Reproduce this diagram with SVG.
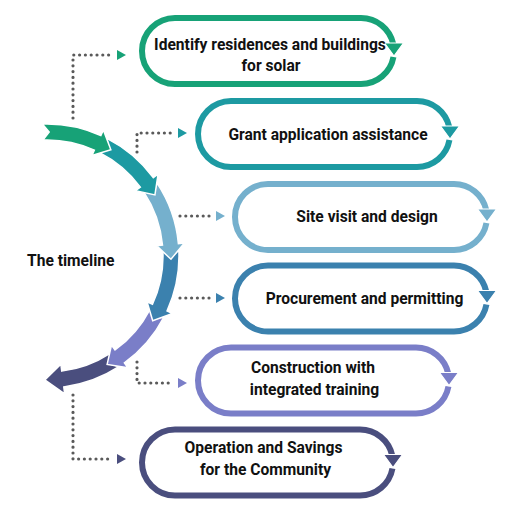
<svg xmlns="http://www.w3.org/2000/svg" width="527" height="523" viewBox="0 0 527 523">
<style>
.pill{fill:none;stroke-width:6;stroke-linecap:butt}
.tri{stroke:#fff;stroke-width:1.2;stroke-linejoin:miter}
.seg{stroke:#fff;stroke-width:1.5;stroke-linejoin:miter}
.dot{fill:none;stroke:#5a5a5a;stroke-width:3.2;stroke-linecap:round;stroke-dasharray:0 5.8}
.lbl{font-family:Roboto,"Liberation Sans",sans-serif;font-weight:700;font-size:15.6px;fill:#111;text-anchor:middle}
.c1{stroke:#17a277}.f1{fill:#17a277}
.c2{stroke:#1d9aa2}.f2{fill:#1d9aa2}
.c3{stroke:#75b0cd}.f3{fill:#75b0cd}
.c4{stroke:#3b81ae}.f4{fill:#3b81ae}
.c5{stroke:#7a7ec8}.f5{fill:#7a7ec8}
.c6{stroke:#4a4e7e}.f6{fill:#4a4e7e}
</style>
<rect width="527" height="523" fill="#fff"/>
<g id="timeline">
<path class="seg f6" d="M118.89,366.71 A132,132 0 0 1 63.78,386.93 L64.67,393.87 L44.83,379.98 L60.85,364.12 L61.74,371.06 A116,116 0 0 0 110.17,353.29 L109,363.39 Z"/>
<path class="seg f5" d="M164.08,316.94 A132,132 0 0 1 124.4,362.92 L127.92,367.78 L107.12,364.45 L111.5,345.1 L115.02,349.96 A116,116 0 0 0 149.89,309.56 L153.84,318.93 Z"/>
<path class="seg f4" d="M178.87,250.24 A132,132 0 0 1 167.01,310.95 L172.47,313.45 L152.72,320.79 L147.01,301.79 L152.47,304.29 A116,116 0 0 0 162.88,250.94 L171,257.08 Z"/>
<path class="seg f3" d="M157.07,183.15 A132,132 0 0 1 178.42,243.58 L184.39,243.01 L170.96,259.25 L156.52,245.65 L162.49,245.08 A116,116 0 0 0 143.73,191.98 L153.84,193.07 Z"/>
<path class="seg f2" d="M106.93,138.39 A132,132 0 0 1 153.25,177.67 L158.08,174.11 L154.93,194.94 L135.54,190.73 L140.37,187.17 A116,116 0 0 0 99.66,152.64 L109,148.62 Z"/>
<path class="seg f1" d="M42.39,124.08 A132,132 0 0 1 100.9,135.51 L103.35,130.03 L110.86,149.71 L91.91,155.59 L94.36,150.12 A116,116 0 0 0 42.95,140.07 L49.17,132.02 Z"/>
<text x="27" y="266" font-family="Roboto,'Liberation Sans',sans-serif" font-weight="700" font-size="15.6" fill="#111">The timeline</text>
</g>
<g id="connectors">
<path class="dot" d="M73,118 V55 H112"/><polygon class="f1" points="117,50 126,55 117,60"/>
<path class="dot" d="M137,152 V133 H172"/><polygon class="f2" points="178,128 187,133 178,138"/>
<path class="dot" d="M180,216 H210"/><polygon class="f3" points="216,211 225,216 216,221"/>
<path class="dot" d="M180,298 H210"/><polygon class="f4" points="216,293 225,298 216,303"/>
<path class="dot" d="M137,362 V383 H172"/><polygon class="f5" points="178,378 187,383 178,388"/>
<path class="dot" d="M73,395 V459 H112"/><polygon class="f6" points="117,454 126,459 117,464"/>
</g>
<g id="node1">
<path class="pill c1" d="M393.45,57 A33,33 0 0 1 361,84 H175 A33,33 0 0 1 175,18 H361 A33,33 0 0 1 393.25,44"/>
<polygon class="tri f1" points="384.5,43 403.5,43 394,56"/>
<text class="lbl" x="270" y="50">Identify residences and buildings</text>
<text class="lbl" x="271" y="71">for solar</text>
</g>
<g id="node2">
<path class="pill c2" d="M449.45,140 A33,33 0 0 1 417,167 H231 A33,33 0 0 1 231,101 H417 A33,33 0 0 1 449.25,127"/>
<polygon class="tri f2" points="440.5,126 459.5,126 450,139"/>
<text class="lbl" x="328" y="140">Grant application assistance</text>
</g>
<g id="node3">
<path class="pill c3" d="M486.45,223 A33,33 0 0 1 454,250 H268 A33,33 0 0 1 268,184 H454 A33,33 0 0 1 486.25,210"/>
<polygon class="tri f3" points="477.5,209 496.5,209 487,222"/>
<text class="lbl" x="367" y="222">Site visit and design</text>
</g>
<g id="node4">
<path class="pill c4" d="M486.45,304.5 A33,33 0 0 1 454,331.5 H268 A33,33 0 0 1 268,265.5 H454 A33,33 0 0 1 486.25,291.5"/>
<polygon class="tri f4" points="477.5,290.5 496.5,290.5 487,303.5"/>
<text class="lbl" x="364.5" y="303.5">Procurement and permitting</text>
</g>
<g id="node5">
<path class="pill c5" d="M448.45,386.5 A33,33 0 0 1 416,413.5 H231 A33,33 0 0 1 231,347.5 H416 A33,33 0 0 1 448.25,373.5"/>
<polygon class="tri f5" points="439.5,372.5 458.5,372.5 449,385.5"/>
<text class="lbl" x="313" y="373">Construction with</text>
<text class="lbl" x="314.5" y="395">integrated training</text>
</g>
<g id="node6">
<path class="pill c6" d="M392.45,468.5 A33,33 0 0 1 360,495.5 H175 A33,33 0 0 1 175,429.5 H360 A33,33 0 0 1 392.25,455.5"/>
<polygon class="tri f6" points="383.5,454.5 402.5,454.5 393,467.5"/>
<text class="lbl" x="263.5" y="453">Operation and Savings</text>
<text class="lbl" x="265.5" y="475">for the Community</text>
</g>
</svg>
